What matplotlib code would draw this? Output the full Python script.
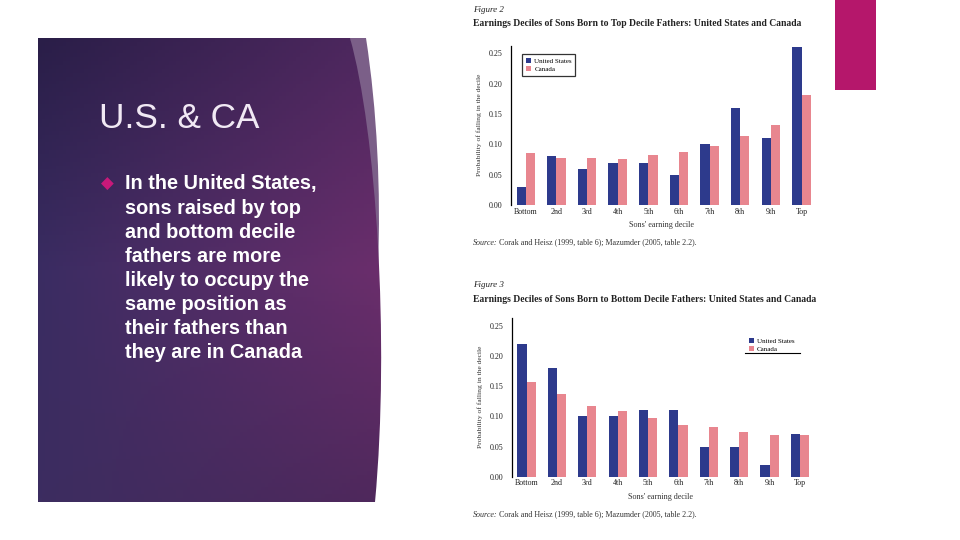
import matplotlib
matplotlib.use('Agg')
import matplotlib.pyplot as plt
import numpy as np
from matplotlib.path import Path
from matplotlib.patches import PathPatch, Rectangle
from matplotlib.lines import Line2D

deciles = ['Bottom', '2nd', '3rd', '4th', '5th', '6th', '7th', '8th', '9th', 'Top']

# Figure 2: sons of top decile fathers
top_us = [0.03, 0.08, 0.06, 0.07, 0.07, 0.05, 0.10, 0.16, 0.11, 0.26]
top_ca = [0.085, 0.078, 0.078, 0.076, 0.083, 0.088, 0.098, 0.113, 0.132, 0.181]

# Figure 3: sons of bottom decile fathers
bot_us = [0.22, 0.18, 0.10, 0.10, 0.11, 0.11, 0.05, 0.05, 0.02, 0.07]
bot_ca = [0.157, 0.137, 0.117, 0.109, 0.097, 0.086, 0.082, 0.074, 0.069, 0.069]

bullet_lines = ['In the United States,', 'sons raised by top', 'and bottom decile',
                'fathers are more', 'likely to occupy the', 'same position as',
                'their fathers than', 'they are in Canada']

US_COL = '#2d3a8c'
CA_COL = '#e8868f'
SERIF = 'Liberation Serif'

fig = plt.figure(figsize=(9.6, 5.4), dpi=100)
fig.patch.set_facecolor('white')

# background axes in pixel coords
bg = fig.add_axes([0, 0, 1, 1])
bg.set_xlim(0, 960)
bg.set_ylim(540, 0)
bg.axis('off')

# magenta block top right
bg.add_patch(Rectangle((835, 0), 41, 90, color='#b5176b', lw=0))

# lighter strip at the curved edge
strip = Path([(350, 38), (366, 38), (377, 110), (381, 190), (378, 268), (360, 268), (350, 38)],
             [Path.MOVETO, Path.LINETO, Path.CURVE4, Path.CURVE4, Path.CURVE4,
              Path.LINETO, Path.CLOSEPOLY])
bg.add_patch(PathPatch(strip, fc='#7b5f88', ec='none'))

# purple panel with gradient
panel = Path([(38, 38), (350, 38), (376, 130), (390, 340), (375, 502), (38, 502), (38, 38)],
             [Path.MOVETO, Path.LINETO, Path.CURVE4, Path.CURVE4, Path.CURVE4,
              Path.LINETO, Path.CLOSEPOLY])
pp = PathPatch(panel, fc='none', ec='none')
bg.add_patch(pp)

h, w = 120, 100
ys = np.linspace(0, 1, h)[:, None]
xs = np.linspace(0, 1, w)[None, :]
left_top = np.array([42, 30, 72])
left_mid = np.array([58, 44, 98])
left_bot = np.array([60, 45, 96])
right_top = np.array([80, 40, 96])
right_mid = np.array([108, 46, 108])
right_bot = np.array([80, 40, 92])


def vert(top, mid, bot):
    a = np.clip(ys * 2, 0, 1)
    b = np.clip(ys * 2 - 1, 0, 1)
    col = np.where(ys[..., None] < 0.5,
                   top * (1 - a[..., None]) + mid * a[..., None],
                   mid * (1 - b[..., None]) + bot * b[..., None])
    return col


lc = vert(left_top, left_mid, left_bot)
rc = vert(right_top, right_mid, right_bot)
grad = lc * (1 - xs[..., None]) + rc * xs[..., None]
im = bg.imshow(grad / 255.0, extent=(38, 392, 502, 38), aspect='auto', zorder=1)
im.set_clip_path(pp)
bg.set_xlim(0, 960)
bg.set_ylim(540, 0)

# slide text
bg.text(99, 118, 'U.S. & CA', fontsize=25.3, color='#f1e9f4', family='Liberation Sans',
        va='center', ha='left', zorder=3)
bg.text(107, 184, '\u25c6', fontsize=12, color='#c8197a', va='center', ha='center', zorder=3)
for i, line in enumerate(bullet_lines):
    bg.text(125, 184 + i * 24, line, fontsize=14.3, fontweight='bold', color='white',
            family='Liberation Sans', va='center', ha='left', zorder=3)


def chart(rect, us, ca, fig_no, title, label_y):
    ax = fig.add_axes(rect)
    ax.set_facecolor('none')
    x = np.arange(len(deciles))
    bw = 0.3
    ax.bar(x - bw / 2, us, bw, color=US_COL, label='United States')
    ax.bar(x + bw / 2, ca, bw, color=CA_COL, label='Canada')
    ax.set_xlim(-0.49, 9.33)
    ax.set_ylim(0, 0.263)
    ax.set_yticks([0, 0.05, 0.10, 0.15, 0.20, 0.25])
    ax.set_yticklabels(['0.00', '0.05', '0.10', '0.15', '0.20', '0.25'])
    ax.set_xticks(x)
    ax.set_xticklabels(deciles)
    ax.tick_params(axis='x', length=0, labelsize=5.8, pad=2)
    ax.tick_params(axis='y', length=0, labelsize=5.8, pad=6)
    for lab in ax.get_xticklabels() + ax.get_yticklabels():
        lab.set_family(SERIF)
        lab.set_color('#222222')
    for s in ['top', 'right', 'bottom']:
        ax.spines[s].set_visible(False)
    ax.spines['left'].set_linewidth(0.9)
    ax.set_xlabel("Sons' earning decile", family=SERIF, fontsize=5.9, labelpad=4, color='#333333')
    ax.set_ylabel('Probability of falling in the decile', family=SERIF, fontsize=5.4,
                  labelpad=5, color='#333333')
    bg.text(473, label_y, 'Figure %d' % fig_no, family=SERIF, style='italic', fontsize=6.5,
            va='center', ha='left', color='#222222')
    bg.text(473, label_y + 14, title, family=SERIF, fontweight='bold', fontsize=6.95,
            va='center', ha='left', color='#222222')
    return ax


ax2 = chart([0.532, 0.6204, 0.3135, 0.2953], top_us, top_ca, 2,
            'Earnings Deciles of Sons Born to Top Decile Fathers: United States and Canada', 10)
leg = ax2.legend(loc='upper left', bbox_to_anchor=(519 / 960, 1 - 51 / 540),
                 bbox_transform=fig.transFigure, prop={'family': SERIF, 'size': 5},
                 frameon=True, fancybox=False, handlelength=0.8, handleheight=0.8,
                 handletextpad=0.4, borderpad=0.5, labelspacing=0.3)
leg.get_frame().set_edgecolor('black')
leg.get_frame().set_linewidth(0.9)

ax3 = chart([0.533, 0.1172, 0.3107, 0.2942], bot_us, bot_ca, 3,
            'Earnings Deciles of Sons Born to Bottom Decile Fathers: United States and Canada', 285)
leg3 = ax3.legend(loc='upper left', bbox_to_anchor=(744 / 960, 1 - 333 / 540),
                  bbox_transform=fig.transFigure, prop={'family': SERIF, 'size': 5},
                  frameon=False, handlelength=0.8, handleheight=0.8,
                  handletextpad=0.4, borderpad=0.2, labelspacing=0.3)
fig.add_artist(Line2D([745 / 960, 800 / 960], [1 - 353 / 540, 1 - 353 / 540],
                      transform=fig.transFigure, color='black', lw=0.8))

src = 'Source: Corak and Heisz (1999, table 6); Mazumder (2005, table 2.2).'
for yy in (244, 516):
    bg.text(473, yy + 0.6, 'Source:', family=SERIF, style='italic', fontsize=5.8, va='baseline',
            ha='left', color='#333333')
    bg.text(499, yy, src[8:], family=SERIF, fontsize=5.8, va='baseline', ha='left', color='#333333')

fig.savefig('out.png', dpi=100)
